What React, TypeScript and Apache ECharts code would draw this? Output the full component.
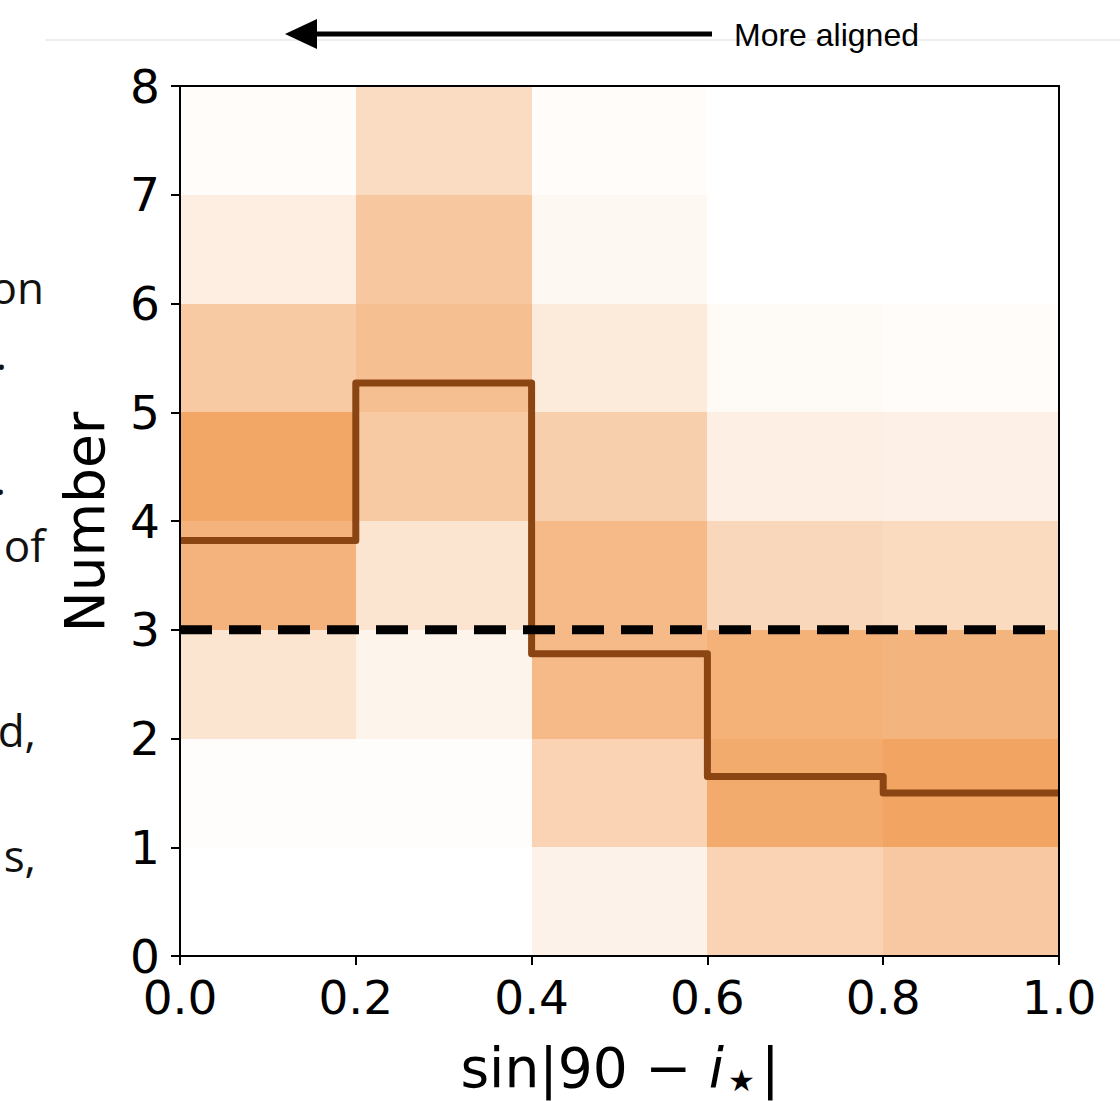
import React, { useEffect, useRef } from 'react';
import * as echarts from 'echarts';

// ---- data ----
const xEdges = [0, 0.2, 0.4, 0.6, 0.8, 1.0];
const yEdges = [0, 1, 2, 3, 4, 5, 6, 7, 8];
// relative density of each cell, bottom (0-1) to top (7-8), per x bin
const densityBin0 = [0.0, 0.02, 0.29, 0.83, 0.97, 0.58, 0.19, 0.03];
const densityBin1 = [0.0, 0.02, 0.12, 0.30, 0.58, 0.70, 0.61, 0.39];
const densityBin2 = [0.14, 0.48, 0.76, 0.76, 0.53, 0.23, 0.08, 0.03];
const densityBin3 = [0.48, 0.93, 0.86, 0.44, 0.18, 0.06, 0.0, 0.0];
const densityBin4 = [0.60, 1.0, 0.82, 0.40, 0.16, 0.03, 0.0, 0.0];
const densityBins = [densityBin0, densityBin1, densityBin2, densityBin3, densityBin4];
// median step line per bin
const medianValues = [3.82, 5.27, 2.78, 1.65, 1.5];
const thresholdValue = 3;
const xTickLabels = ['0.0', '0.2', '0.4', '0.6', '0.8', '1.0'];
const sideFragments = ['on', '.', '.', 'of', 'd,', 's,'];

// ---- layout / style ----
const W = 1120;
const H = 1101;
const cellColors = ['#ffffff', '#f2a462'];
const sideBaselines = [302, 368, 493, 560, 745, 870];
const sideRight = [44, 7, 6, 45, 36, 36];

export default function App() {
  const ref = useRef<HTMLDivElement>(null);

  useEffect(() => {
    if (!ref.current) return;
    const chart = echarts.init(ref.current, undefined, { renderer: 'svg' });

    const cells: number[][] = [];
    densityBins.forEach((col, i) => {
      col.forEach((v, j) => {
        cells.push([xEdges[i], xEdges[i + 1], yEdges[j], yEdges[j + 1], v]);
      });
    });

    const stepData: number[][] = medianValues.map((v, i) => [xEdges[i], v]);
    stepData.push([xEdges[xEdges.length - 1], medianValues[medianValues.length - 1]]);

    const thresholdData = [
      [xEdges[0], thresholdValue],
      [xEdges[xEdges.length - 1], thresholdValue],
    ];

    const axisFont = 'DejaVu Sans';
    const tickLabelStyle = { fontSize: 47, color: '#000', fontFamily: axisFont };

    const graphic: any[] = [
      {
        type: 'line',
        shape: { x1: 45, y1: 40, x2: W, y2: 40 },
        style: { stroke: '#e8e8e8', lineWidth: 1.5 },
      },
      {
        type: 'line',
        shape: { x1: 310, y1: 34, x2: 712, y2: 34 },
        style: { stroke: '#000', lineWidth: 5 },
      },
      {
        type: 'polygon',
        shape: { points: [[285, 34], [317, 19], [317, 49]] },
        style: { fill: '#000' },
      },
      {
        type: 'text',
        x: 734,
        y: 35,
        style: {
          text: 'More aligned',
          fontFamily: 'Liberation Sans',
          fontSize: 32,
          fill: '#000',
          textAlign: 'left',
          textVerticalAlign: 'middle',
        },
      },
      {
        type: 'text',
        x: 85,
        y: 522,
        rotation: Math.PI / 2,
        style: {
          text: 'Number',
          fontFamily: axisFont,
          fontSize: 55,
          fill: '#000',
          textAlign: 'center',
          textVerticalAlign: 'middle',
        },
      },
      {
        type: 'text',
        x: 620,
        y: 1068,
        style: {
          text: '{a|sin|90 − }{b|i}{c|★}{a||}',
          textAlign: 'center',
          textVerticalAlign: 'middle',
          rich: {
            a: { fontFamily: axisFont, fontSize: 55, fill: '#000' },
            b: { fontFamily: axisFont, fontSize: 55, fontStyle: 'italic', fill: '#000' },
            c: { fontFamily: axisFont, fontSize: 30, fill: '#000', verticalAlign: 'bottom', padding: [0, 6, 0, 4] },
          },
        },
      },
    ];

    sideFragments.forEach((t, k) => {
      graphic.push({
        type: 'text',
        x: sideRight[k],
        y: sideBaselines[k] - 15,
        style: {
          text: t,
          fontFamily: 'Open Sans',
          fontSize: 44,
          fill: '#111',
          textAlign: 'right',
          textVerticalAlign: 'middle',
        },
      });
    });

    const option: any = {
      animation: false,
      backgroundColor: '#ffffff',
      grid: { left: 180, right: W - 1059, top: 86, bottom: H - 956, containLabel: false },
      xAxis: [
        {
          type: 'value',
          min: 0,
          max: 1,
          interval: 0.2,
          position: 'bottom',
          z: 10,
          axisLine: { show: true, onZero: false, lineStyle: { color: '#000', width: 2 } },
          axisTick: { show: true, length: 9, lineStyle: { color: '#000', width: 2 } },
          axisLabel: {
            ...tickLabelStyle,
            margin: 18,
            formatter: (v: number) => xTickLabels[Math.round(v / 0.2)] ?? v.toFixed(1),
          },
          splitLine: { show: false },
        },
        {
          type: 'value',
          min: 0,
          max: 1,
          interval: 0.2,
          position: 'top',
          z: 10,
          axisLine: { show: true, onZero: false, lineStyle: { color: '#000', width: 2 } },
          axisTick: { show: false },
          axisLabel: { show: false },
          splitLine: { show: false },
        },
      ],
      yAxis: [
        {
          type: 'value',
          min: 0,
          max: 8,
          interval: 1,
          position: 'left',
          z: 10,
          axisLine: { show: true, onZero: false, lineStyle: { color: '#000', width: 2 } },
          axisTick: { show: true, length: 9, lineStyle: { color: '#000', width: 2 } },
          axisLabel: { ...tickLabelStyle, margin: 20 },
          splitLine: { show: false },
        },
        {
          type: 'value',
          min: 0,
          max: 8,
          interval: 1,
          position: 'right',
          z: 10,
          axisLine: { show: true, onZero: false, lineStyle: { color: '#000', width: 2 } },
          axisTick: { show: false },
          axisLabel: { show: false },
          splitLine: { show: false },
        },
      ],
      series: [
        {
          type: 'custom',
          z: 1,
          xAxisIndex: 0,
          yAxisIndex: 0,
          data: cells,
          encode: { x: [0, 1], y: [2, 3] },
          renderItem: (params: any, api: any) => {
            const p0 = api.coord([api.value(0), api.value(2)]);
            const p1 = api.coord([api.value(1), api.value(3)]);
            const left = Math.round(p0[0]);
            const right = Math.round(p1[0]);
            const top = Math.round(p1[1]);
            const bottom = Math.round(p0[1]);
            return {
              type: 'rect',
              shape: { x: left, y: top, width: right - left, height: bottom - top },
              style: { fill: echarts.color.lerp(api.value(4), cellColors) },
            };
          },
        },
        {
          type: 'line',
          z: 3,
          xAxisIndex: 0,
          yAxisIndex: 0,
          data: stepData,
          step: 'end',
          symbol: 'none',
          lineStyle: { color: '#8b4513', width: 7, join: 'round' },
        },
        {
          type: 'line',
          z: 4,
          xAxisIndex: 0,
          yAxisIndex: 0,
          data: thresholdData,
          symbol: 'none',
          lineStyle: { color: '#000', width: 9, type: [32, 17] },
        },
      ],
      graphic,
    };

    chart.setOption(option);
    return () => chart.dispose();
  }, []);

  return (
    <div
      ref={ref}
      style={{ position: 'fixed', left: 0, top: 0, width: W, height: H, background: '#fff' }}
    />
  );
}
